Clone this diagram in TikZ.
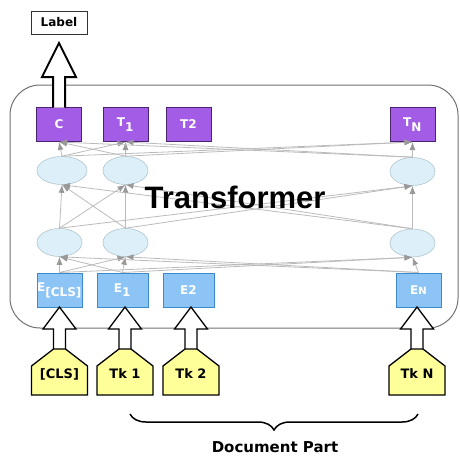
\documentclass[tikz,border=0pt]{standalone}
\usepackage{fontspec}
\setmainfont{DejaVu Sans}
\newfontfamily\tfont{Liberation Sans}
\usetikzlibrary{arrows.meta,decorations.pathreplacing,shapes.geometric}
\definecolor{purp}{HTML}{A35CE6}
\definecolor{purpd}{HTML}{4A2470}
\definecolor{eblue}{HTML}{8DC4F6}
\definecolor{eblued}{HTML}{3C8ACB}
\definecolor{ellf}{HTML}{DDEFF9}
\definecolor{elld}{HTML}{B0C6D0}
\definecolor{tokf}{HTML}{FFFF99}
\definecolor{edgec}{HTML}{BBBBBB}
\definecolor{cont}{HTML}{707070}
\begin{document}
\begin{tikzpicture}[x=1pt,y=-1pt,
  tbox/.style={draw=purpd,fill=purp,line width=1pt,minimum width=45pt,minimum height=34pt,inner sep=0pt,text=white,font=\bfseries\fontsize{12}{12}\selectfont},
  ebox/.style={draw=eblued,fill=eblue,line width=1pt,minimum height=34pt,inner sep=0pt,text=white,font=\bfseries\fontsize{12}{12}\selectfont},
  ell/.style={draw=elld,fill=ellf,ellipse,line width=0.6pt,minimum width=45pt,minimum height=28pt,inner sep=0pt},
  lbl/.style={font=\bfseries\fontsize{13}{13}\selectfont},
  tok/.style={draw=black,fill=tokf,line width=1.3pt,line join=miter},
  harrow/.style={draw=black,fill=white,line width=1.3pt,line join=miter},
  conn/.style={draw=edgec,line width=0.8pt,-{Latex[length=8pt,width=6pt,color=gray!80]}}
]
\useasboundingbox (0,0) rectangle (460,458);
% container
\draw[cont,line width=1pt,rounded corners=30pt] (10,85) rectangle (458,328);
% label box
\node[draw=black!80,line width=1pt,minimum width=56pt,minimum height=23pt,inner sep=0pt,font=\bfseries\fontsize{12}{12}\selectfont] (lab) at (59,22.5) {Label};
% top boxes
\node[tbox] (t0) at (59,124.5) {C};
\node[tbox] (t1) at (125.5,124.5) {T$_{\textbf{1}}$};
\node[tbox] (t2) at (188.5,124.5) {T2};
\node[tbox] (tN) at (412.5,124.5) {T$_{\textbf{N}}$};
% ellipses
\node[ell,minimum width=50pt] (u0) at (62,170.5) {};
\node[ell] (u1) at (125.5,170.5) {};
\node[ell] (uN) at (412.5,171.5) {};
\node[ell] (l0) at (59.5,242.5) {};
\node[ell] (l1) at (125.5,242.5) {};
\node[ell] (lN) at (412.5,243) {};
% embeddings
\node[ebox,minimum width=45pt] (e0) at (59.5,290) {E$_{\textbf{[CLS]}}$};
\node[ebox,minimum width=51pt] (e1) at (122.5,290) {E$_{\textbf{1}}$};
\node[ebox,minimum width=51pt] (e2) at (188.5,290) {E2};
\node[ebox,minimum width=45pt] (eN) at (418.5,290) {E{\fontsize{10}{10}\selectfont N}};
% big output arrow
\draw[harrow,line width=2pt] (53,107.5) -- (53,77) -- (42,77) -- (59,43) -- (76,77) -- (65,77) -- (65,107.5);
% tokens
\foreach \cx/\tx/\n in {59.5/{[CLS]}/k0,125/{Tk 1}/k1,191/{Tk 2}/k2,417/{Tk N}/kN}{
  \draw[harrow] (\cx-6,349) -- (\cx-6,329) -- (\cx-16.5,329) -- (\cx,307) -- (\cx+16.5,329) -- (\cx+6,329) -- (\cx+6,349);
  \draw[tok] (\cx-28,395) -- (\cx-28,366) -- (\cx-6,349) -- (\cx+6,349) -- (\cx+28,366) -- (\cx+28,395) -- cycle;
  \node[lbl] (\n) at (\cx,374) {\tx};
}
% connections
\foreach \s in {e0,e1,eN}{\foreach \d in {l0,l1,lN}{\draw[conn] (\s.north) -- (\d.south);}}
\foreach \s in {l0,l1,lN}{\foreach \d in {u0,u1,uN}{\draw[conn] (\s.north) -- (\d.south);}}
\foreach \s in {u0,u1,uN}{\foreach \d in {t0,t1,tN}{\draw[conn] (\s.north) -- (\d.south);}}
% transformer label
\node[font=\tfont\bfseries\fontsize{31}{31}\selectfont,inner sep=0pt] (tr) at (235,197) {Transformer};
% brace
\draw[decorate,decoration={brace,amplitude=16pt},line width=1.5pt] (418,414) -- (130,414);
\node[font=\bfseries\fontsize{15}{15}\selectfont] (dp) at (275,447) {Document Part};
\end{tikzpicture}
\end{document}
